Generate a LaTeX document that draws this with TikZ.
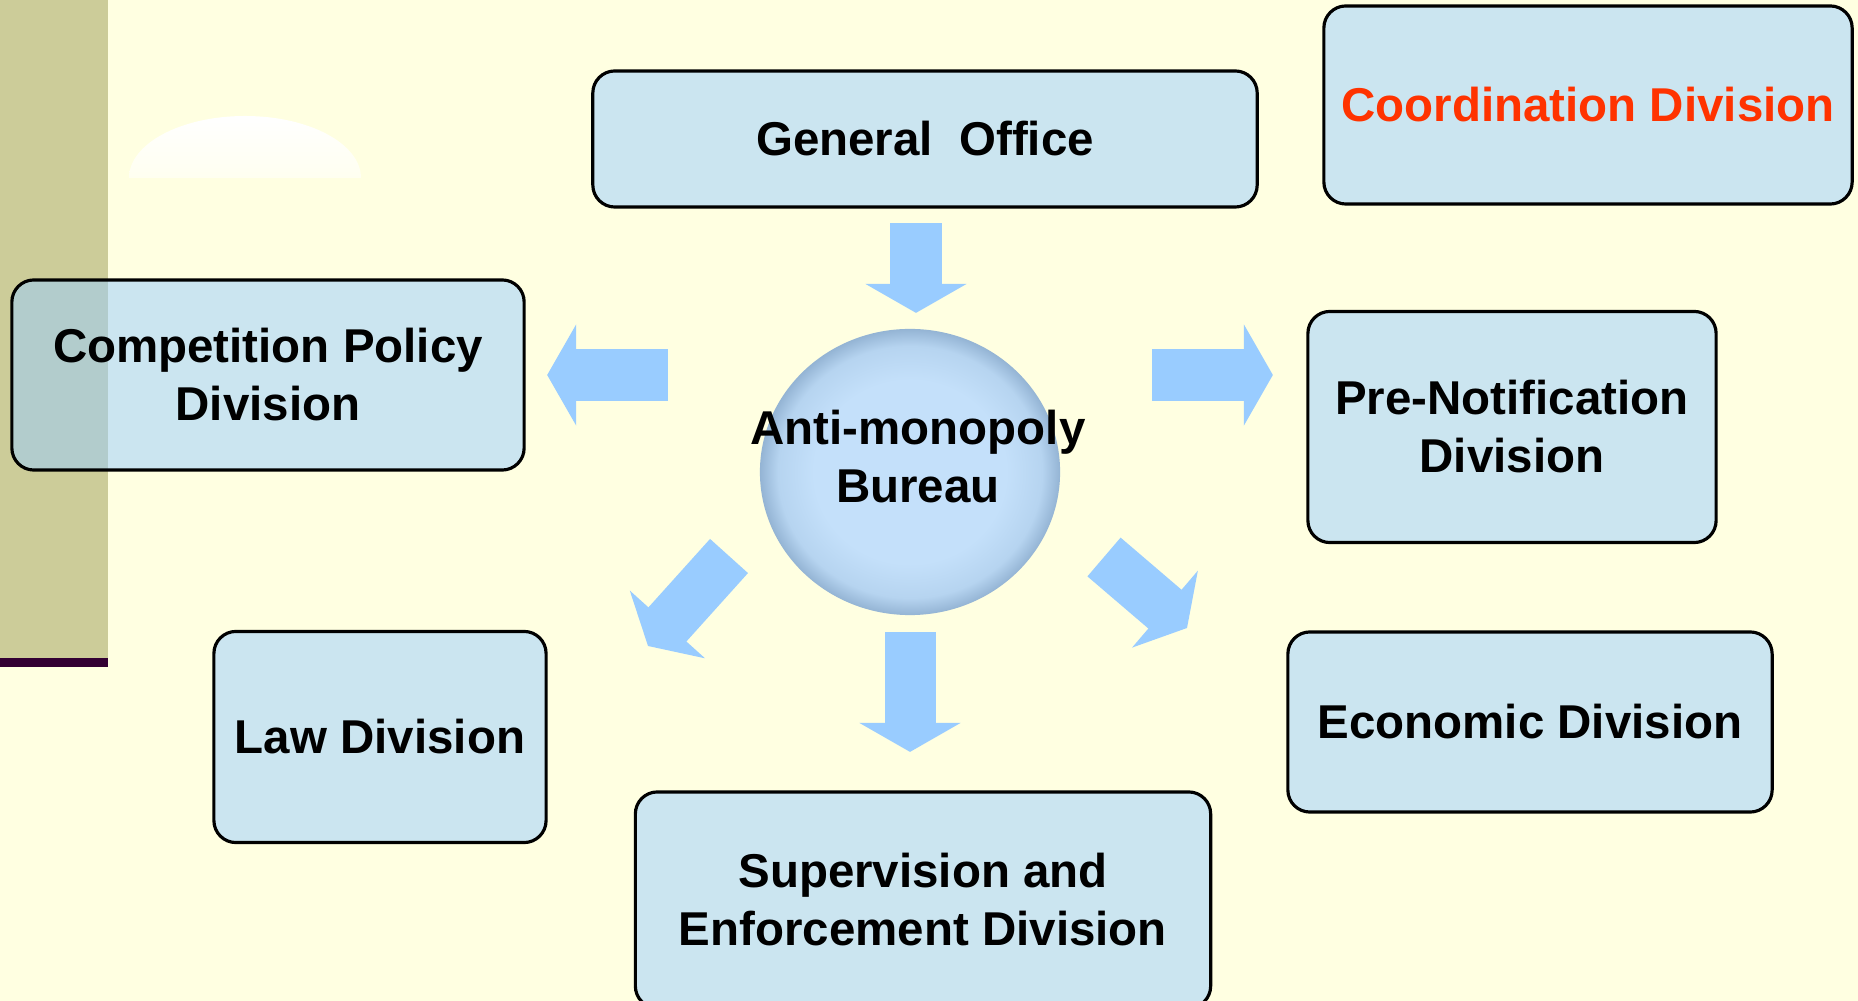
\documentclass[tikz,border=0pt]{standalone}
\usepackage{fontspec}
\setmainfont{Liberation Sans}
\usepackage{xcolor}
\usepackage{tikz}
\usetikzlibrary{arrows.meta,shapes.geometric}

\definecolor{paper}{RGB}{255,255,225}
\definecolor{khaki}{RGB}{204,204,153}
\definecolor{plum}{RGB}{51,0,51}
\definecolor{skyblue}{RGB}{153,204,255}
\definecolor{alertred}{RGB}{255,51,0}
\definecolor{ballin}{RGB}{196,224,250}
\definecolor{ballmid}{RGB}{182,212,240}
\definecolor{ballrim}{RGB}{148,180,212}

\pgfdeclareradialshading{bureauball}{\pgfpoint{0bp}{0bp}}{%
    color(0bp)=(ballin); color(16bp)=(ballin); color(22bp)=(ballmid);
    color(25bp)=(ballrim); color(50bp)=(ballrim)}

\begin{document}
\begin{tikzpicture}[
    x=0.01cm, y=-0.01cm,
    block/.style={rectangle, draw=black, line width=0.9pt, 
        rounded corners=0.22cm, outer sep=0pt,
        fill=skyblue, fill opacity=0.5, text opacity=1,
        font=\fontsize{13.5}{16.5}\selectfont\bfseries, align=center},
    title/.style={font=\fontsize{13.5}{16.5}\selectfont\bfseries, 
        align=center, inner sep=0pt},
    flow/.style={draw=skyblue, line width=0.51cm, 
        -{Triangle[length=0.29cm, width=1.0cm]}},
]

% ── Backdrop ──
\fill[paper] (0,0) rectangle (1858,1001);
\useasboundingbox (0,0) rectangle (1858,1001);
\fill[khaki] (0,0) rectangle (108,658);
\fill[plum] (0,658) rectangle (108,667);
\begin{scope}
    \clip (120,100) rectangle (380,178);
    \shade[top color=white, middle color=white!30!paper, 
        bottom color=paper] (245,178) 
        ellipse [x radius=116, y radius=62];
\end{scope}

% ── Bureau in the middle ──
\node[ellipse, minimum width=3.0cm, minimum height=2.86cm, 
    shading=bureauball, outer sep=0pt] (bureau) at (910,472) {};
\node[title] (bureaulbl) at ([shift={(8,-15)}]bureau.center) 
    {Anti-monopoly\\Bureau};

% ── Divisions ──
\node[block, minimum width=6.64cm, minimum height=1.36cm] (office) 
    at (925,139) {General\ \ Office};
\node[block, minimum width=5.28cm, minimum height=1.98cm, 
    text=alertred] (coord) 
    at (1588,105) {Coordination Division};
\node[block, minimum width=5.12cm, minimum height=1.90cm] (compet) 
    at (268,375) {Competition Policy\\Division};
\node[block, minimum width=4.08cm, minimum height=2.31cm] (prenote) 
    at (1512,427) {Pre-Notification\\Division};
\node[block, minimum width=3.32cm, minimum height=2.11cm] (law) 
    at (380,737) {Law Division};
\node[block, minimum width=5.75cm, minimum height=2.16cm] (superv) 
    at (923,900) {Supervision and\\Enforcement Division};
\node[block, minimum width=4.84cm, minimum height=1.80cm] (econ) 
    at (1530,722) {Economic Division};

% ── Arrows ──
\draw[flow, shorten <=0.16cm, shorten >=0.16cm] 
    ([xshift=-0.09cm]office.south) -- ([xshift=-0.09cm]office.south |- bureau.north);
\draw[flow, shorten <=0.92cm, shorten >=0.23cm] 
    (compet.east -| bureau.west) -- (compet.east);
\draw[flow, shorten <=0.92cm, shorten >=0.35cm] 
    (compet.east -| bureau.east) -- (compet.east -| prenote.west);
\draw[flow, shorten <=0.17cm, shorten >=0.40cm] 
    (bureau.south) -- (bureau.south |- superv.north);

% diagonal ones toward law and economic
\coordinate (lawfrom) at ([shift={(-181,84)}]bureau.center);
\coordinate (lawto) at ([shift={(-262,174)}]bureau.center);
\coordinate (econfrom) at ([shift={(194,85)}]bureau.center);
\coordinate (econto) at ([shift={(277,156)}]bureau.center);
\draw[flow] (lawfrom) -- (lawto);
\draw[flow] (econfrom) -- (econto);

\end{tikzpicture}
\end{document}
